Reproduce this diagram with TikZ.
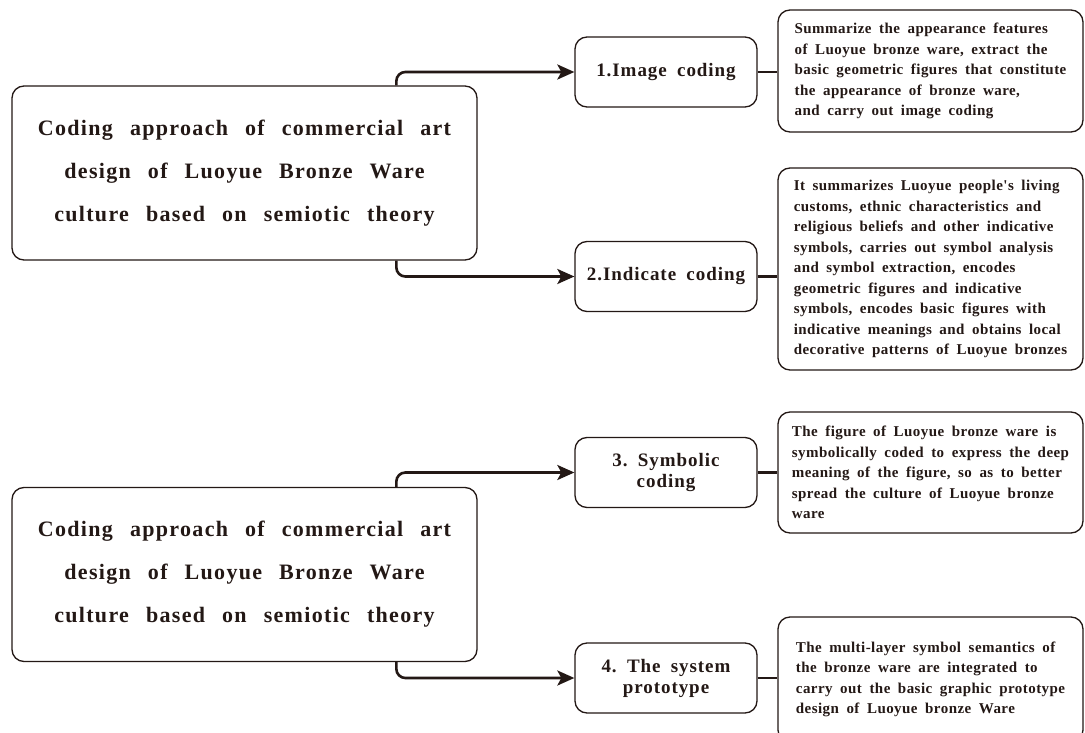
\documentclass[tikz,border=0pt]{standalone}
\usepackage{fontspec}
\setmainfont{Liberation Serif}
% one spaced-out serif per text size
\newfontfamily\titleserif{Liberation Serif}[LetterSpace=6,WordSpace=2.5]
\newfontfamily\stepserif{Liberation Serif}[LetterSpace=5,WordSpace=1.8]
\newfontfamily\noteserif{Liberation Serif}[LetterSpace=3,WordSpace=1.8]
\usetikzlibrary{arrows.meta}
\definecolor{ink}{RGB}{35,24,21}
\begin{document}
\begin{tikzpicture}[x=1pt,y=-1pt,
  mainbox/.style={draw=ink, line width=1.3pt, rounded corners=12pt,
    minimum width=465pt, minimum height=174pt, inner sep=0pt,
    font=\titleserif\bfseries\fontsize{22}{43}\selectfont, align=center, text=ink},
  stepbox/.style={draw=ink, line width=1.3pt, rounded corners=12pt,
    minimum width=182pt, minimum height=70pt, inner sep=0pt,
    font=\stepserif\bfseries\fontsize{19}{21}\selectfont, align=center, text=ink},
  notebox/.style={draw=ink, line width=1.3pt, rounded corners=12pt,
    minimum width=305pt, inner sep=0pt,
    font=\noteserif\bfseries\fontsize{15}{20.5}\selectfont, align=left, text=ink},
  conn/.style={draw=ink, line width=2.6pt, rounded corners=9pt,
    -{Stealth[length=17pt,width=15pt,inset=4pt]}},
  link/.style={draw=ink, line width=2.6pt}]
\useasboundingbox (0,0) rectangle (1085,733);
\clip (0,0) rectangle (1085,733);
\fill[white] (0,0) rectangle (1085,733);

% left-hand summary boxes
\node[mainbox] (m1) at (244.5,173) {Coding approach of commercial art\\design of Luoyue Bronze Ware\\culture based on semiotic theory};
\node[mainbox] (m2) at (244.5,574.5) {Coding approach of commercial art\\design of Luoyue Bronze Ware\\culture based on semiotic theory};

% coding steps
\node[stepbox] (s1) at (666,72) {1.Image coding};
\node[stepbox] (s2) at (666,276.5) {2.Indicate coding};
\node[stepbox] (s3) at (666,472.5) {3.\ Symbolic\\coding};
\node[stepbox] (s4) at (666,678) {4.\ The system\\prototype};

% explanatory notes
\node[notebox, minimum height=122pt] (n1) at (930.5,71) {Summarize the appearance features\\of Luoyue bronze ware, extract the\\basic geometric figures that constitute\\the appearance of bronze ware,\\and carry out image coding};
\node[notebox, minimum height=202pt] (n2) at (930.5,269) {It summarizes Luoyue people's living\\customs, ethnic characteristics and\\religious beliefs and other indicative\\symbols, carries out symbol analysis\\and symbol extraction, encodes\\geometric figures and indicative\\symbols, encodes basic figures with\\indicative meanings and obtains local\\decorative patterns of Luoyue bronzes};
\node[notebox, minimum height=121pt] (n3) at (930.5,472.5) {The figure of Luoyue bronze ware is\\symbolically coded to express the deep\\meaning of the figure, so as to better\\spread the culture of Luoyue bronze\\ware};
\node[notebox, minimum height=125pt] (n4) at (930.5,679.5) {The multi-layer symbol semantics of\\the bronze ware are integrated to\\carry out the basic graphic prototype\\design of Luoyue bronze Ware};

% connectors
\draw[conn] (m1.north west) ++(385,0) |- (s1.west);
\draw[conn] (m1.south west) ++(385,0) |- (s2.west);
\draw[conn] (m2.north west) ++(385,0) |- (s3.west);
\draw[conn] (m2.south west) ++(385,0) |- (s4.west);
\draw[link] (s1.east) -- (s1.east -| n1.west);
\draw[link] (s2.east) -- (s2.east -| n2.west);
\draw[link] (s3.east) -- (s3.east -| n3.west);
\draw[link] (s4.east) -- (s4.east -| n4.west);
\end{tikzpicture}
\end{document}
